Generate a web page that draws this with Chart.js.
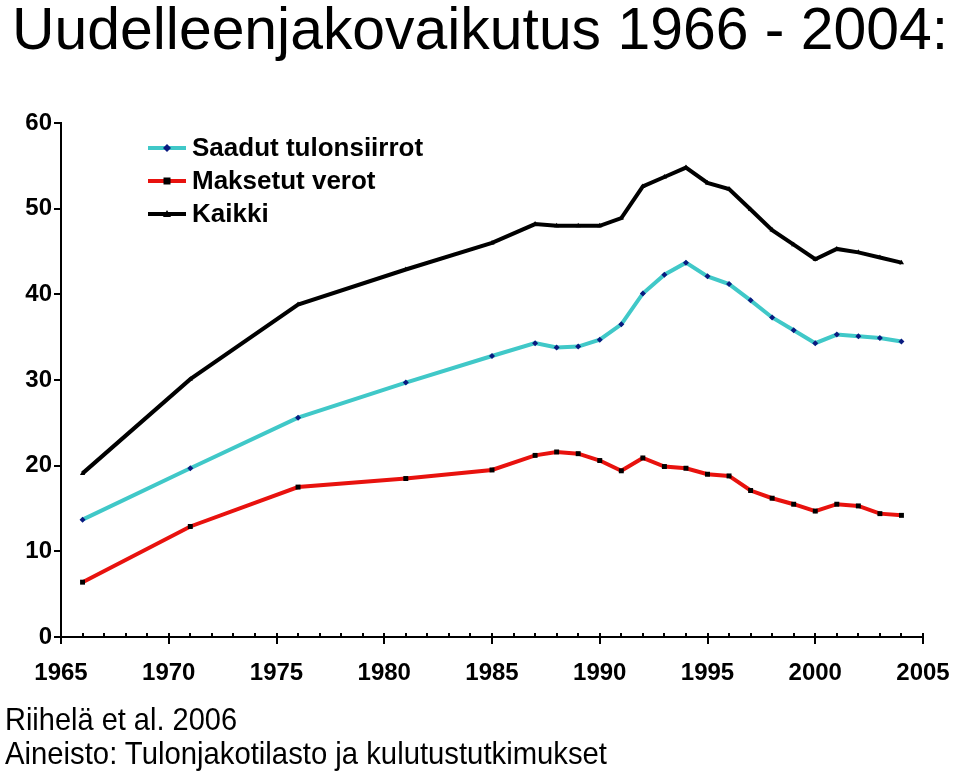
<!DOCTYPE html>
<html>
<head>
<meta charset="utf-8">
<script src="https://cdn.jsdelivr.net/npm/chart.js@4.4.0/dist/chart.umd.min.js"></script>
<style>
  html, body { margin: 0; padding: 0; background: #fff; }
  body { width: 959px; height: 777px; position: relative; overflow: hidden; }
  #wrap { position: absolute; left: 0; top: 0; width: 959px; height: 777px; }
  .txt { position: absolute; white-space: nowrap; color: #000;
         font-family: "Liberation Sans Narrow", "Liberation Sans", Arial, sans-serif;
         transform-origin: 0 0; line-height: 1; }
  #title { left: 12px; top: -1px; font-size: 60px; }
  #src1 { left: 5px; top: 703px; font-size: 32px; }
  #src2 { left: 5px; top: 737px; font-size: 32px; }
</style>
</head>
<body>
<div id="wrap"><canvas id="chart"></canvas></div>
<div class="txt" id="title" data-w="936">Uudelleenjakovaikutus 1966 - 2004:</div>
<div class="txt" id="src1" data-w="232">Riihelä et al. 2006</div>
<div class="txt" id="src2" data-w="602">Aineisto: Tulonjakotilasto ja kulutustutkimukset</div>
<script>
// ===== data =====
const years = [1966, 1971, 1976, 1981, 1985, 1987, 1988, 1989, 1990, 1991, 1992, 1993,
               1994, 1995, 1996, 1997, 1998, 1999, 2000, 2001, 2002, 2003, 2004];

const saadut = [13.7, 19.7, 25.6, 29.7, 32.8, 34.3, 33.8, 33.9, 34.7, 36.5, 40.1, 42.3,
                43.7, 42.1, 41.2, 39.3, 37.3, 35.8, 34.3, 35.3, 35.1, 34.9, 34.5];

const maksetut = [6.4, 12.9, 17.5, 18.5, 19.5, 21.2, 21.6, 21.4, 20.6, 19.4, 20.9, 19.9,
                  19.7, 19.0, 18.8, 17.1, 16.2, 15.5, 14.7, 15.5, 15.3, 14.4, 14.2];

const kaikki = [19.1, 30.1, 38.8, 42.9, 46.0, 48.2, 48.0, 48.0, 48.0, 48.9, 52.6, 53.7,
                54.8, 53.0, 52.3, 49.9, 47.5, 45.8, 44.1, 45.3, 44.9, 44.3, 43.7];

const seriesNames = ['Saadut tulonsiirrot', 'Maksetut verot', 'Kaikki'];
const xTicks = [1965, 1970, 1975, 1980, 1985, 1990, 1995, 2000, 2005];
const yTicks = [0, 10, 20, 30, 40, 50, 60];

// fit the plain texts to the widths they have in the picture
document.querySelectorAll('.txt').forEach(el => {
  const w = el.getBoundingClientRect().width;
  const target = +el.dataset.w;
  el.style.transform = 'scaleX(' + (target / w) + ')';
});

const pts = vals => vals.map((v, i) => ({ x: years[i], y: v }));

// minor / major ticks on the x axis, both sitting on the axis line
const xTickMarks = {
  id: 'xTickMarks',
  afterDraw(chart) {
    const ctx = chart.ctx;
    const xs = chart.scales.x;
    const y0 = chart.chartArea.bottom;
    ctx.save();
    ctx.strokeStyle = '#000';
    ctx.lineWidth = 2;
    for (let yr = xTicks[0]; yr <= xTicks[xTicks.length - 1]; yr++) {
      const px = Math.round(xs.getPixelForValue(yr));
      const major = xTicks.includes(yr);
      ctx.beginPath();
      ctx.moveTo(px, y0 - 4);
      ctx.lineTo(px, major ? y0 + 7 : y0);
      ctx.stroke();
    }
    ctx.restore();
  }
};

// legend drawn inside the plot, top left
const insideLegend = {
  id: 'insideLegend',
  afterDraw(chart) {
    const ctx = chart.ctx;
    ctx.save();
    ctx.font = 'bold 26px "Liberation Sans", Arial, sans-serif';
    ctx.textBaseline = 'middle';
    chart.data.datasets.forEach((ds, i) => {
      const y = 148 + i * 33;
      ctx.strokeStyle = ds.borderColor;
      ctx.lineWidth = 4;
      ctx.beginPath();
      ctx.moveTo(148, y);
      ctx.lineTo(186, y);
      ctx.stroke();
      ctx.fillStyle = ds.pointBackgroundColor;
      const r = ds.pointRadius;
      ctx.beginPath();
      if (ds.pointStyle === 'rect') ctx.rect(167 - r, y - r, 2 * r, 2 * r);
      else if (ds.pointStyle === 'rectRot') {
        ctx.moveTo(167, y - r - 1); ctx.lineTo(167 + r + 1, y);
        ctx.lineTo(167, y + r + 1); ctx.lineTo(167 - r - 1, y); ctx.closePath();
      } else {
        ctx.moveTo(167, y - r - 1); ctx.lineTo(167 + r + 1, y + r);
        ctx.lineTo(167 - r - 1, y + r); ctx.closePath();
      }
      ctx.fill();
      ctx.fillStyle = '#000';
      ctx.fillText(ds.label, 192, y + 1);
    });
    ctx.restore();
  }
};

new Chart(document.getElementById('chart'), {
  type: 'line',
  data: {
    datasets: [
      {
        label: seriesNames[0],
        data: pts(saadut),
        borderColor: '#40c8c8',
        borderWidth: 4,
        pointStyle: 'rectRot',
        pointRadius: 3,
        pointBackgroundColor: '#0a1a80',
        pointBorderWidth: 0,
        tension: 0,
      },
      {
        label: seriesNames[1],
        data: pts(maksetut),
        borderColor: '#e8120e',
        borderWidth: 4,
        pointStyle: 'rect',
        pointRadius: 3.5,
        pointBackgroundColor: '#000',
        pointBorderWidth: 0,
        tension: 0,
      },
      {
        label: seriesNames[2],
        data: pts(kaikki),
        borderColor: '#000',
        borderWidth: 4,
        pointStyle: 'triangle',
        pointRadius: 3,
        pointBackgroundColor: '#000',
        pointBorderWidth: 0,
        tension: 0,
      },
    ],
  },
  options: {
    responsive: true,
    maintainAspectRatio: false,
    animation: false,
    layout: { padding: { left: 0, top: 123, right: 36, bottom: 80 } },
    plugins: {
      legend: { display: false },
      tooltip: { enabled: false },
    },
    scales: {
      x: {
        type: 'linear',
        min: xTicks[0],
        max: xTicks[xTicks.length - 1],
        afterBuildTicks: s => { s.ticks = xTicks.map(v => ({ value: v })); },
        ticks: {
          color: '#000',
          font: { family: '"Liberation Sans", Arial, sans-serif', size: 24, weight: 'bold' },
          padding: 14,
          maxRotation: 0,
          autoSkip: false,
          callback: v => String(v),
        },
        grid: { display: false },
        border: { display: true, color: '#000', width: 2 },
        afterFit: s => { s.height = 60; s.paddingLeft = 0; s.paddingRight = 0; },
      },
      y: {
        min: yTicks[0],
        max: yTicks[yTicks.length - 1],
        afterBuildTicks: s => { s.ticks = yTicks.map(v => ({ value: v })); },
        ticks: {
          color: '#000',
          font: { family: '"Liberation Sans", Arial, sans-serif', size: 24, weight: 'bold' },
          padding: 2,
        },
        grid: { drawOnChartArea: false, drawTicks: true, tickLength: 7, color: '#000', lineWidth: 2 },
        border: { display: true, color: '#000', width: 2 },
        afterFit: s => { s.width = 61; s.paddingTop = 0; s.paddingBottom = 0; },
      },
    },
  },
  plugins: [xTickMarks, insideLegend],
});
</script>
</body>
</html>
